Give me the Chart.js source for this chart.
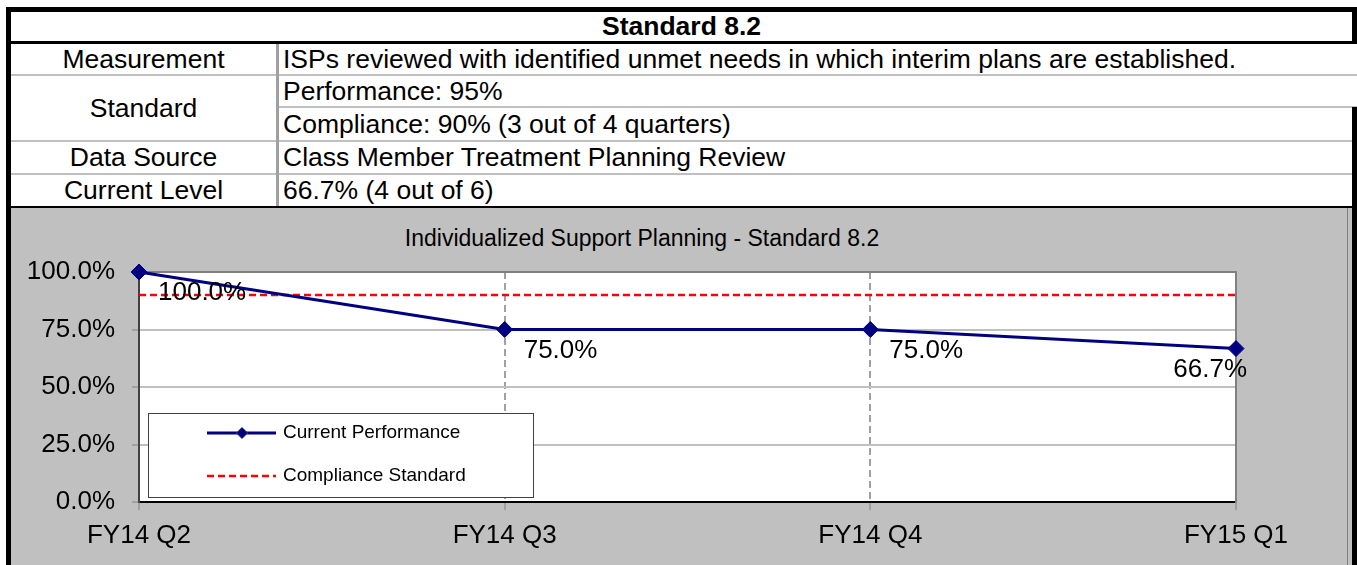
<!DOCTYPE html>
<html>
<head>
<meta charset="utf-8">
<title>Standard 8.2</title>
<script src="https://cdn.jsdelivr.net/npm/chart.js@4.4.1/dist/chart.umd.min.js"></script>
<style>
  html, body { margin: 0; padding: 0; background: #fff; }
  body { width: 1357px; height: 565px; overflow: hidden; position: relative; font-family: 'Liberation Sans', Arial, sans-serif; color: #000; }
  .abs { position: absolute; }
  .hline { position: absolute; background: #c0c0c0; height: 2px; }
  .cell { position: absolute; font-size: 26.5px; white-space: nowrap; }
  .label { left: 11px; width: 265px; text-align: center; }
  .text { left: 283px; }
  .chart-title { position: absolute; left: 342px; width: 600px; top: 224px; line-height: 28px; font-size: 23px; text-align: center; }
</style>
</head>
<body>
  <!-- table -->
  <div class="abs" style="left:6px;top:7px;width:1351px;height:37px;box-sizing:border-box;border:5px solid #000;border-bottom-width:3px;font-weight:bold;font-size:26.5px;line-height:29px;text-align:center;">Standard 8.2</div>
  <div class="abs" style="left:6px;top:7px;width:5px;height:558px;background:#000;"></div>

  <div class="cell label" style="top:44px;height:30px;line-height:30px;">Measurement</div>
  <div class="cell text" style="top:44px;height:30px;line-height:30px;">ISPs reviewed with identified unmet needs in which interim plans are established.</div>
  <div class="hline" style="left:11px;top:74px;width:1346px;"></div>

  <div class="cell label" style="top:76px;height:64px;line-height:64px;">Standard</div>
  <div class="cell text" style="top:76px;height:30px;line-height:30px;">Performance: 95%</div>
  <div class="hline" style="left:279px;top:106px;width:1078px;"></div>
  <div class="cell text" style="top:108px;height:32px;line-height:32px;">Compliance: 90% (3 out of 4 quarters)</div>
  <div class="hline" style="left:11px;top:140px;width:1346px;"></div>

  <div class="cell label" style="top:142px;height:31px;line-height:31px;">Data Source</div>
  <div class="cell text" style="top:142px;height:31px;line-height:31px;">Class Member Treatment Planning Review</div>
  <div class="hline" style="left:11px;top:173px;width:1346px;"></div>

  <div class="cell label" style="top:175px;height:31px;line-height:31px;">Current Level</div>
  <div class="cell text" style="top:175px;height:31px;line-height:31px;">66.7% (4 out of 6)</div>

  <div class="abs" style="left:276px;top:44px;width:3px;height:162px;background:#a0a0a0;"></div>
  <div class="abs" style="left:6px;top:206px;width:1351px;height:2px;background:#000;"></div>
  <div class="abs" style="left:1352px;top:107px;width:5px;height:458px;background:#000;"></div>

  <!-- chart panel -->
  <div class="abs" style="left:11px;top:208px;width:1341px;height:357px;background:#c0c0c0;"></div>
  <div class="abs" style="left:1347px;top:208px;width:1px;height:357px;background:#808080;"></div>
  <div class="chart-title">Individualized Support Planning - Standard 8.2</div>
  <div class="abs" style="left:11px;top:208px;width:1336px;height:357px;">
    <canvas id="myChart"></canvas>
  </div>

<script>
(() => {
  'use strict'

  const categories = ['FY14 Q2', 'FY14 Q3', 'FY14 Q4', 'FY15 Q1']
  const performance = [100, 75, 75, 66.7]
  const complianceStandard = [90, 90, 90, 90]
  const yStep = 25

  const fontFamily = "'Liberation Sans', Arial, sans-serif"
  Chart.defaults.font.family = fontFamily
  Chart.defaults.color = '#000'

  // white plot area on the grey panel
  const plotBackground = {
    id: 'plotBackground',
    beforeDraw (chart) {
      const { ctx, chartArea: a } = chart
      ctx.save()
      ctx.fillStyle = '#fff'
      ctx.fillRect(a.left, a.top, a.right - a.left, a.bottom - a.top)
      ctx.restore()
    }
  }

  // value labels next to each marker
  const valueLabels = {
    id: 'valueLabels',
    afterDatasetsDraw (chart) {
      const { ctx, chartArea } = chart
      const meta = chart.getDatasetMeta(0)
      ctx.save()
      ctx.font = '26px ' + fontFamily
      ctx.fillStyle = '#000'
      ctx.textBaseline = 'middle'
      ctx.textAlign = 'left'
      meta.data.forEach((pt, i) => {
        const text = chart.data.datasets[0].data[i].toFixed(1) + '%'
        const w = ctx.measureText(text).width
        let x = pt.x + 19
        if (x + w > chartArea.right + 11) x = chartArea.right + 11 - w
        ctx.fillText(text, x, pt.y + 21)
      })
      ctx.restore()
    }
  }

  // boxed legend in the lower left of the plot
  const boxLegend = {
    id: 'boxLegend',
    afterDraw (chart) {
      const { ctx, chartArea: a } = chart
      const left = a.left + 9
      const top = a.bottom - 89
      ctx.save()
      ctx.fillStyle = '#fff'
      ctx.fillRect(left, top, 385, 84)
      ctx.strokeStyle = '#404040'
      ctx.lineWidth = 1
      ctx.strokeRect(left + 0.5, top + 0.5, 385, 84)

      chart.data.datasets.forEach((ds, i) => {
        const y = top + 20 + i * 43
        const x0 = left + 59
        ctx.save()
        ctx.strokeStyle = ds.borderColor
        ctx.lineWidth = ds.borderWidth
        ctx.setLineDash(ds.borderDash || [])
        ctx.beginPath()
        ctx.moveTo(x0, y)
        ctx.lineTo(x0 + 69, y)
        ctx.stroke()
        ctx.restore()
        if (ds.pointRadius > 0) {
          Chart.helpers.drawPoint(ctx, { pointStyle: ds.pointStyle, radius: 5.5, borderWidth: 1, rotation: 0 }, x0 + 35, y)
          ctx.fillStyle = ds.backgroundColor
          ctx.strokeStyle = ds.borderColor
          ctx.fill()
        }
        ctx.fillStyle = '#000'
        ctx.font = '19px ' + fontFamily
        ctx.textBaseline = 'middle'
        ctx.textAlign = 'left'
        ctx.fillText(ds.label, x0 + 76, y)
      })
      ctx.restore()
    }
  }

  const ctx = document.getElementById('myChart')
  // eslint-disable-next-line no-unused-vars
  const myChart = new Chart(ctx, {
    type: 'line',
    data: {
      labels: categories,
      datasets: [{
        label: 'Current Performance',
        data: performance,
        borderColor: '#000080',
        backgroundColor: '#000080',
        borderWidth: 3,
        pointStyle: 'rectRot',
        pointRadius: 8,
        pointHoverRadius: 8,
        pointBorderWidth: 1,
        tension: 0,
        clip: false
      }, {
        label: 'Compliance Standard',
        data: complianceStandard,
        borderColor: '#ff0000',
        backgroundColor: '#ff0000',
        borderWidth: 2.5,
        borderDash: [7, 4],
        pointRadius: 0,
        tension: 0
      }]
    },
    options: {
      responsive: true,
      maintainAspectRatio: false,
      animation: false,
      events: [],
      layout: { padding: { left: 0, right: 111, top: 64, bottom: 0 } },
      scales: {
        x: {
          offset: false,
          ticks: { padding: 10, color: '#000', font: { size: 26 }, maxRotation: 0, autoSkip: false },
          grid: {
            offset: false,
            color: c => (c.index > 0 && c.index < categories.length - 1) ? '#a0a0a0' : 'transparent',
            lineWidth: 2,
            tickLength: 8,
            tickColor: '#808080',
            tickWidth: 1
          },
          border: { color: '#000', width: 2, dash: [7, 4] },
          afterFit: s => { s.height = 63 }
        },
        y: {
          min: 0,
          max: 100,
          ticks: {
            stepSize: yStep,
            padding: 17,
            color: '#000',
            font: { size: 26 },
            callback: v => v.toFixed(1) + '%'
          },
          grid: {
            color: c => {
              if (!c.tick) return '#c0c0c0'
              if (c.tick.value === 100) return '#808080'
              if (c.tick.value === 0) return 'transparent'
              return '#c0c0c0'
            },
            lineWidth: 2,
            tickLength: 7,
            tickColor: '#808080',
            tickWidth: 1
          },
          border: { color: '#404040', width: 2 },
          afterFit: s => { s.width = 128 }
        },
        y2: {
          position: 'right',
          min: 0,
          max: 100,
          ticks: { display: false },
          grid: { display: false, drawTicks: false },
          border: { color: '#808080', width: 2 },
          afterFit: s => { s.width = 0 }
        }
      },
      plugins: {
        legend: { display: false },
        tooltip: { enabled: false },
        title: { display: false }
      }
    },
    plugins: [plotBackground, valueLabels, boxLegend]
  })
})()
</script>
</body>
</html>
